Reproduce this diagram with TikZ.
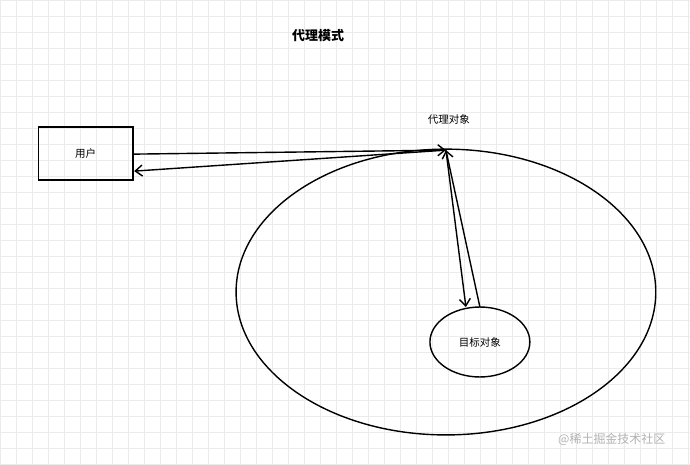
\documentclass[tikz,border=0pt]{standalone}
\usepackage{fontspec}
\setmainfont{Noto Sans CJK SC}
\usetikzlibrary{arrows.meta,shapes.geometric}
\begin{document}
\begin{tikzpicture}[x=1pt,y=-1pt,
  conn/.style={draw, line width=1.4pt, -{Straight Barb[length=7pt,width=11pt]}},
  lbl/.style={font=\fontsize{10.5}{12}\selectfont}]
\fill[white] (0,0) rectangle (690,464);
\foreach \i in {0,16,...,688} \draw[black!8, line width=0.5pt] (\i,0) -- (\i,464);
\foreach \j in {0,16,...,464} \draw[black!8, line width=0.5pt] (0,\j) -- (690,\j);
\useasboundingbox (0,0) rectangle (690,464);
\node[font=\bfseries\fontsize{13}{15}\selectfont] (title) at (318,35) {代理模式};
\node[draw, line width=1.4pt, minimum width=95pt, minimum height=53pt, lbl] (user) at (85.5,153.5) {用户};
\node[lbl] (proxylbl) at (449,119) {代理对象};
\draw[line width=1.4pt] (446,292) ellipse[x radius=210, y radius=143];
\node[draw, ellipse, line width=1.4pt, minimum width=100pt, minimum height=70pt, inner sep=0pt, lbl] (target) at (480,342) {目标对象};
\coordinate (p) at (446,150);
\coordinate (u1) at (133,154);
\coordinate (u2) at (134,171);
\coordinate (t1) at (466,307);
\coordinate (t2) at (480,307);
\draw[conn] (u1) -- (p);
\draw[conn] (p) -- (u2);
\draw[conn] (p) -- (t1);
\draw[conn] (t2) -- (p);
\node[text=black!30, font=\fontsize{12}{14}\selectfont] (wm) at (612,440) {@稀土掘金技术社区};
\end{tikzpicture}
\end{document}
